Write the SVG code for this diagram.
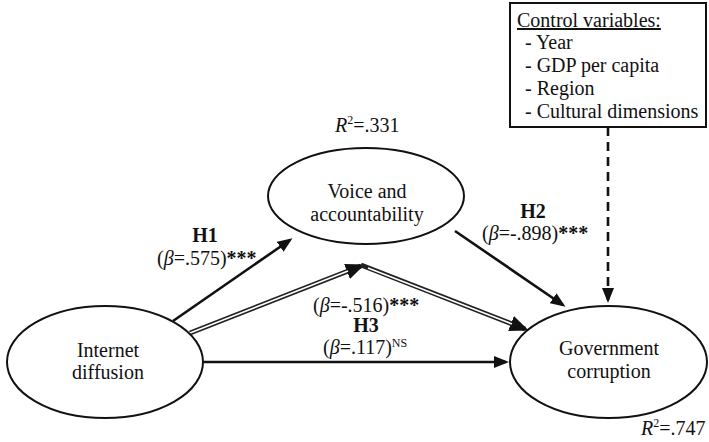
<svg xmlns="http://www.w3.org/2000/svg" width="709" height="442" viewBox="0 0 709 442">
<style>
text{font-family:"Liberation Serif","Times New Roman",serif;font-size:20px;fill:#111}
.c{text-anchor:middle}
.b{font-weight:bold}
.i{font-style:italic}
.node{fill:#fff;stroke:#111;stroke-width:2}
.ln{fill:none;stroke:#111;stroke-width:2.6}
.dbl{fill:none;stroke:#222;stroke-width:5}
.dblin{fill:none;stroke:#fff;stroke-width:1.6}
</style>
<defs>
<marker id="ah" markerUnits="userSpaceOnUse" markerWidth="16" markerHeight="12" refX="12" refY="6" orient="auto">
<path d="M0,0 L15,6 L0,12 z" fill="#111"/>
</marker>
<marker id="ahb" markerUnits="userSpaceOnUse" markerWidth="20" markerHeight="16" refX="15" refY="8" orient="auto">
<path d="M0,0 L19,8 L0,16 z" fill="#111"/>
</marker>
</defs>
<g id="connectors">
<line class="ln" x1="173" y1="321" x2="290" y2="240" marker-end="url(#ah)"/>
<line class="ln" x1="455" y1="231" x2="563" y2="305" marker-end="url(#ah)"/>
<line class="ln" x1="608" y1="127" x2="608" y2="300" stroke-dasharray="9,6" marker-end="url(#ah)"/>
<line class="ln" x1="203" y1="362" x2="506" y2="362" marker-end="url(#ah)"/>
<line class="dbl" x1="190" y1="333" x2="361" y2="266" marker-end="url(#ahb)"/>
<line class="dbl" x1="361" y1="265" x2="525" y2="329" marker-end="url(#ahb)"/>
<line class="dblin" x1="190" y1="333" x2="348" y2="271"/>
<line class="dblin" x1="368" y1="268" x2="512" y2="324"/>
</g>
<g id="control">
<rect x="510" y="3" width="196" height="124" fill="#fff" stroke="#111" stroke-width="2"/>
<text x="517" y="27" text-decoration="underline">Control variables:</text>
<text x="525" y="49">- Year</text>
<text x="525" y="72">- GDP per capita</text>
<text x="525" y="95">- Region</text>
<text x="525" y="118" font-size="19.5">- Cultural dimensions</text>
</g>
<g id="voice">
<ellipse class="node" cx="366" cy="196" rx="98" ry="48"/>
<text class="c" x="367" y="198">Voice and</text>
<text class="c" x="367" y="221">accountability</text>
<text x="335" y="132"><tspan class="i">R</tspan><tspan font-size="12" dy="-8">2</tspan><tspan dy="8">=.331</tspan></text>
</g>
<g id="internet">
<ellipse class="node" cx="105" cy="362" rx="98" ry="56"/>
<text class="c" x="108" y="357">Internet</text>
<text class="c" x="108" y="379">diffusion</text>
</g>
<g id="government">
<ellipse class="node" cx="608.5" cy="362" rx="98.5" ry="56"/>
<text class="c" x="609" y="355">Government</text>
<text class="c" x="609" y="378">corruption</text>
<text x="641" y="435"><tspan class="i">R</tspan><tspan font-size="12" dy="-8">2</tspan><tspan dy="8">=.747</tspan></text>
</g>
<g id="labels">
<text class="c b" x="205" y="242">H1</text>
<text x="157" y="265">(<tspan class="i">β</tspan>=.575)<tspan class="b">***</tspan></text>
<text class="c b" x="533" y="218">H2</text>
<text x="482" y="240">(<tspan class="i">β</tspan>=-.898)<tspan class="b">***</tspan></text>
<text x="313" y="312">(<tspan class="i">β</tspan>=-.516)<tspan class="b">***</tspan></text>
<text class="c b" x="366" y="332">H3</text>
<text x="323" y="354">(<tspan class="i">β</tspan>=.117)<tspan font-size="12" dy="-7">NS</tspan></text>
</g>
</svg>
